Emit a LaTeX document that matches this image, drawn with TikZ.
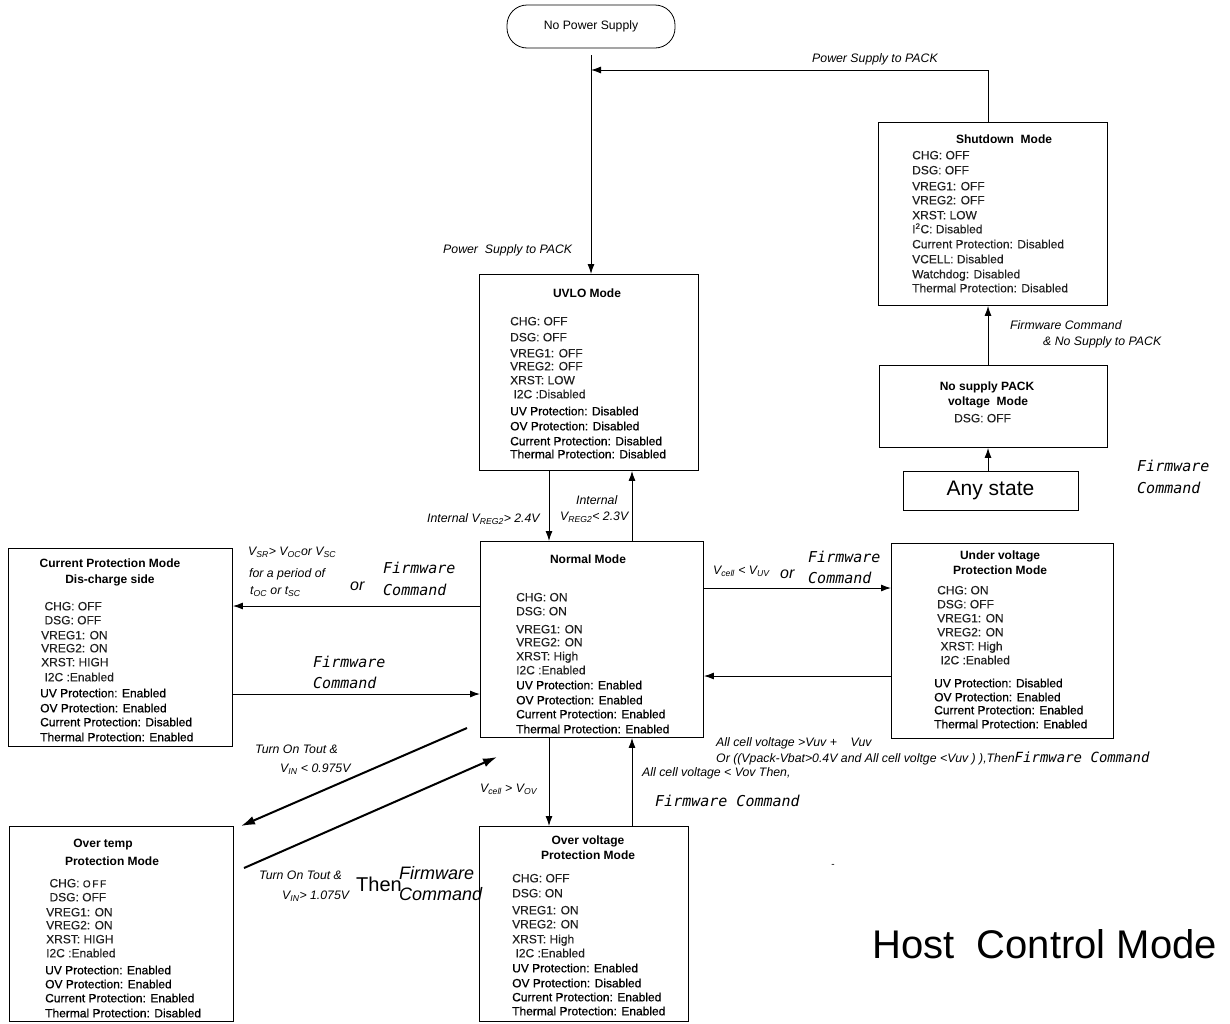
\documentclass[tikz,border=0pt]{standalone}
\usepackage{fontspec}
\setmainfont{Liberation Sans}
\newfontfamily\fwfont{DejaVu Sans Mono}
\newfontfamily\rowfont{Liberation Sans}[FakeBold=0.25]
\newfontfamily\semibold{Liberation Sans}[FakeBold=0.8]
\usetikzlibrary{arrows.meta}

\newcommand\lsub[1]{\textsubscript{#1}}
% one row of status text per entry: y/text
\newcommand\statusrows[4]{%
  \foreach \yy/\txt [count=\k] in {#4} \node[#3] (#1-\k) at (#2,\yy) {\txt};}

\tikzset{
  modebox/.style={draw, line width=0.9pt, inner sep=0pt, anchor=north west},
  row/.style={anchor=base west, inner sep=0pt, yshift=-4.3pt,
    font=\fontsize{12}{14}\selectfont\rowfont, text=black!88},
  prow/.style={row, font=\fontsize{12}{14}\selectfont\semibold, text=black},
  title/.style={anchor=base, inner sep=0pt, yshift=-4.3pt,
    font=\fontsize{12}{14}\selectfont\bfseries},
  lbl/.style={anchor=base west, inner sep=0pt, yshift=-4.4pt,
    font=\fontsize{12.3}{14}\selectfont\itshape},
  fw/.style={anchor=base west, inner sep=0pt, yshift=-5.5pt,
    font=\fontsize{15}{17}\selectfont\fwfont\itshape},
  bigor/.style={anchor=base west, inner sep=0pt, yshift=-5.5pt,
    font=\fontsize{16}{18}\selectfont\itshape},
  flow/.style={line width=1pt, -{Latex[length=10pt,width=7pt]}},
  bigflow/.style={line width=2pt, -{Latex[length=14pt,width=9pt]}},
}

\begin{document}
\begin{tikzpicture}[x=1pt, y=-1pt]
\useasboundingbox (0,0) rectangle (1230,1023);

% ---------------- start state ----------------
\node[draw, line width=0.8pt, rounded corners=20pt, minimum width=168pt,
      minimum height=43pt, font=\fontsize{12.2}{14}\selectfont] (nops) at (591,26.5) {No Power Supply};

% ---------------- mode boxes ----------------
\node[modebox, minimum width=229pt, minimum height=183pt] (shut)   at (878,122) {};
\node[modebox, minimum width=228pt, minimum height=82pt]  (nosup)  at (879,365) {};
\node[draw, line width=0.9pt, inner sep=0pt, minimum width=175pt, minimum height=39pt,
      font=\fontsize{21}{24}\selectfont] (any) at (990.5,490.5) {Any state};
\node[modebox, minimum width=219pt, minimum height=196pt] (uvlo)   at (479,274) {};
\node[modebox, minimum width=223pt, minimum height=196pt] (normal) at (480,541) {};
\node[modebox, minimum width=224pt, minimum height=198pt] (cp)     at (8,548) {};
\node[modebox, minimum width=222pt, minimum height=195pt] (uv)     at (891,543) {};
\node[modebox, minimum width=224pt, minimum height=195pt] (ot)     at (9,826) {};
\node[modebox, minimum width=209pt, minimum height=195pt] (ov)     at (479,826) {};

% ---------------- box contents ----------------
% Shutdown
\node[title] (shut-t) at (1004,139) {Shutdown\ \ Mode};
\statusrows{shut-r}{912}{row}{155/CHG: OFF,170/DSG: OFF,186/VREG1: OFF,200/VREG2: OFF,
  215/XRST: LOW,229/I\textsuperscript{2}C: Disabled,244/Current Protection: Disabled,
  259/VCELL: Disabled,274/Watchdog: Disabled,288/Thermal Protection: Disabled}

% No supply PACK voltage
\node[title] (nosup-t1) at (987,386) {No supply PACK};
\node[title] (nosup-t2) at (988,401) {voltage\ \ Mode};
\statusrows{nosup-r}{954}{row}{418/DSG: OFF}

% UVLO
\node[title] (uvlo-t) at (587,293) {UVLO Mode};
\statusrows{uvlo-r}{510}{row}{321/CHG: OFF,337/DSG: OFF,353/VREG1: OFF,366/VREG2: OFF,
  380/XRST: LOW,394/\ I2C :Disabled}
\statusrows{uvlo-p}{510}{prow}{411/UV Protection: Disabled,426/OV Protection: Disabled,
  441/Current Protection: Disabled,454/Thermal Protection: Disabled}

% Normal
\node[title] (normal-t) at (588,559) {Normal Mode};
\statusrows{normal-r}{516}{row}{597/CHG: ON,611/DSG: ON,629/VREG1: ON,642/VREG2: ON,
  656/XRST: High,670/I2C :Enabled}
\statusrows{normal-p}{516}{prow}{685/UV Protection: Enabled,700/OV Protection: Enabled,
  714/Current Protection: Enabled,729/Thermal Protection: Enabled}

% Current protection (discharge)
\node[title] (cp-t1) at (110,563) {Current Protection Mode};
\node[title] (cp-t2) at (110,579) {Dis-charge side};
\statusrows{cp-r}{41}{row}{606/\ CHG: OFF,620/\ DSG: OFF,635/VREG1: ON,648/VREG2: ON,
  662/XRST: HIGH,677/\ I2C :Enabled}
\statusrows{cp-p}{40}{prow}{693/UV Protection: Enabled,708/OV Protection: Enabled,
  722/Current Protection: Disabled,737/Thermal Protection: Enabled}

% Under voltage protection
\node[title] (uv-t1) at (1000,555) {Under voltage};
\node[title] (uv-t2) at (1000,570) {Protection Mode};
\statusrows{uv-r}{937}{row}{590/CHG: ON,604/DSG: OFF,618/VREG1: ON,632/VREG2: ON,
  646/\ XRST: High,660/\ I2C :Enabled}
\statusrows{uv-p}{934}{prow}{683/UV Protection: Disabled,697/OV Protection: Enabled,
  710/Current Protection: Enabled,724/Thermal Protection: Enabled}

% Over temperature protection
\node[title] (ot-t1) at (103,843) {Over temp};
\node[title] (ot-t2) at (112,861) {Protection Mode};
\statusrows{ot-r}{46}{row}{883/\ CHG: {\fontsize{10}{12}\selectfont O\,F\,F},897/\ DSG: OFF,
  912/VREG1: ON,925/VREG2: ON,939/XRST: HIGH,953/I2C :Enabled}
\statusrows{ot-p}{45}{prow}{970/UV Protection: Enabled,984/OV Protection: Enabled,
  998/Current Protection: Enabled,1013/Thermal Protection: Disabled}

% Over voltage protection
\node[title] (ov-t1) at (588,840) {Over voltage};
\node[title] (ov-t2) at (588,855) {Protection Mode};
\statusrows{ov-r}{512}{row}{878/CHG: OFF,893/DSG: ON,910/VREG1: ON,924/VREG2: ON,
  939/XRST: High,953/\ I2C :Enabled}
\statusrows{ov-p}{512}{prow}{968/UV Protection: Enabled,983/OV Protection: Disabled,
  997/Current Protection: Enabled,1011/Thermal Protection: Enabled}

% ---------------- helper coordinates ----------------
\coordinate (xa) at (549,0);
\coordinate (xb) at (632,0);
\coordinate (xc) at (988,0);
\coordinate (xm) at (591,0);
\coordinate (ycp1) at (0,606);
\coordinate (ycp2) at (0,694);
\coordinate (yuv1) at (0,588);
\coordinate (yuv2) at (0,676);
\coordinate (feed) at (591,55);
\coordinate (join) at (591,70);
\coordinate (corner) at (988,70);
\coordinate (ot-out-a) at (467,728);
\coordinate (ot-in-a)  at (241,826);
\coordinate (ot-out-b) at (244,868);
\coordinate (ot-in-b)  at (497,757);

% ---------------- transitions ----------------
\draw[line width=1pt] (feed) -- (join);
\draw[flow] (join) -- (uvlo.north -| xm);
\draw[flow] (shut.north -| xc) -- (corner) -- (join);
\draw[flow] (nosup.north -| xc) -- (shut.south -| xc);
\draw[flow] (any.north -| xc) -- (nosup.south -| xc);

\draw[flow] (uvlo.south -| xa) -- (normal.north -| xa);
\draw[flow] (normal.north -| xb) -- (uvlo.south -| xb);

\draw[flow] (normal.west |- ycp1) -- (cp.east |- ycp1);
\draw[flow] (cp.east |- ycp2) -- (normal.west |- ycp2);

\draw[flow] (normal.east |- yuv1) -- (uv.west |- yuv1);
\draw[flow] (uv.west |- yuv2) -- (normal.east |- yuv2);

\draw[flow] (normal.south -| xa) -- (ov.north -| xa);
\draw[flow] (ov.north -| xb) -- (normal.south -| xb);

\draw[bigflow] (ot-out-a) -- (ot-in-a);
\draw[bigflow] (ot-out-b) -- (ot-in-b);

% ---------------- transition labels ----------------
\node[lbl] (lb-top) at (812,58) {Power Supply to PACK};
\node[lbl] (lb-uvlo) at (443,249) {Power\ \ Supply to PACK};
\node[lbl] (lb-sd1) at (1010,325) {Firmware Command};
\node[lbl] (lb-sd2) at (1043,341) {\& No Supply to PACK};
\node[fw] (lb-any1) at (1137,466) {Firmware};
\node[fw] (lb-any2) at (1137,488) {Command};

\node[lbl] (lb-dn) at (427,518) {Internal V\lsub{REG2}> 2.4V};
\node[lbl] (lb-up1) at (576,500) {Internal};
\node[lbl] (lb-up2) at (560,516) {V\lsub{REG2}< 2.3V};

\node[lbl] (lb-cp1) at (248,551) {V\lsub{SR}> V\lsub{OC}or V\lsub{SC}};
\node[lbl] (lb-cp2) at (249,573) {for a period of};
\node[lbl] (lb-cp3) at (250,590) {t\lsub{OC} or t\lsub{SC}};
\node[bigor] (lb-cp-or) at (350,585) {or};
\node[fw] (lb-cp-fw1) at (383,568) {Firmware};
\node[fw] (lb-cp-fw2) at (383,590) {Command};
\node[fw] (lb-cpb1) at (313,662) {Firmware};
\node[fw] (lb-cpb2) at (313,683) {Command};

\node[lbl] (lb-uv1) at (713,570) {V\lsub{cell} < V\lsub{UV}};
\node[bigor] (lb-uv-or) at (780,573) {or};
\node[fw] (lb-uv-fw1) at (808,557) {Firmware};
\node[fw] (lb-uv-fw2) at (808,578) {Command};
\node[lbl] (lb-uvb1) at (716,742) {All cell voltage >Vuv +\ \ \ \ Vuv};
\node[lbl] (lb-uvb2) at (716,758) {Or ((Vpack-Vbat>0.4V and All cell voltge <Vuv ) ),Then{\fwfont\fontsize{14}{16}\selectfont Firmware Command}};

\node[lbl] (lb-ov) at (480,788) {V\lsub{cell} > V\lsub{OV}};
\node[lbl] (lb-ovb1) at (642,772) {All cell voltage < Vov Then,};
\node[fw] (lb-ovb2) at (655,801) {Firmware Command};

\node[lbl] (lb-ot1) at (255,749) {Turn On Tout \&};
\node[lbl] (lb-ot2) at (280,768) {V\lsub{IN} < 0.975V};
\node[lbl] (lb-otb1) at (259,875) {Turn On Tout \&};
\node[lbl] (lb-otb2) at (282,895) {V\lsub{IN}> 1.075V};
\node[anchor=base west, inner sep=0pt, yshift=-7pt, font=\fontsize{20}{22}\selectfont] (lb-then) at (356,884) {Then};
\node[anchor=base west, inner sep=0pt, yshift=-6pt, font=\fontsize{18}{20}\selectfont\itshape] (lb-otfw1) at (399,873) {Firmware};
\node[anchor=base west, inner sep=0pt, yshift=-6pt, font=\fontsize{18}{20}\selectfont\itshape] (lb-otfw2) at (399,894) {Command};

% ---------------- free text ----------------
\node[inner sep=0pt, font=\fontsize{10}{12}\selectfont] (dash) at (833,866) {-};
\node[anchor=base west, inner sep=0pt, font=\fontsize{40}{44}\selectfont] (host) at (872,958) {Host\ \ Control Mode};
\end{tikzpicture}
\end{document}
